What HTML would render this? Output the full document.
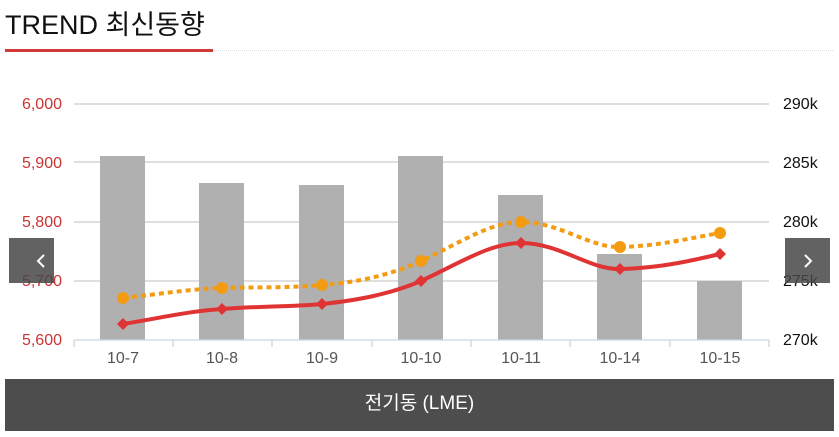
<!DOCTYPE html>
<html><head><meta charset="utf-8"><style>
body{margin:0;background:#fff;width:839px;height:437px;overflow:hidden;position:relative;font-family:"Liberation Sans","Noto Sans CJK KR",sans-serif}
.t{position:absolute;left:5px;top:3px;font-size:27px;color:#111}
.ul{position:absolute;left:5px;top:49px;width:208px;height:3px;background:#d03a3a}
.dl{position:absolute;left:213px;top:50px;width:620px;border-top:1px dotted #ddd}
.nav{position:absolute;top:238px;width:45px;height:45px;background:rgba(70,70,70,.85)}
.bar{position:absolute;left:5px;top:379px;width:829px;height:52px;background:#4d4d4d;color:#fff;font-size:19px;text-align:center;line-height:50px}
</style></head><body>
<div class="t">TREND 최신동향</div><div class="ul"></div><div class="dl"></div>
<svg width="839" height="437" style="position:absolute;left:0;top:0">
<g stroke="#ccc" stroke-width="1.3">
<line x1="74" x2="769" y1="104" y2="104"/><line x1="74" x2="769" y1="162" y2="162"/><line x1="74" x2="769" y1="222" y2="222"/><line x1="74" x2="769" y1="281" y2="281"/></g>
<g fill="#b0b0b0">
<rect x="100" y="156" width="45" height="184"/><rect x="199" y="183" width="45" height="157"/><rect x="299" y="185" width="45" height="155"/><rect x="398" y="156" width="45" height="184"/><rect x="498" y="195" width="45" height="145"/><rect x="597" y="254" width="45" height="86"/><rect x="697" y="281" width="45" height="59"/></g>
<g stroke="#ccd6e0" stroke-width="1.3"><line x1="74" x2="769" y1="340" y2="340"/>
<line x1="74" x2="74" y1="340" y2="347"/><line x1="173" x2="173" y1="340" y2="347"/><line x1="272" x2="272" y1="340" y2="347"/><line x1="372" x2="372" y1="340" y2="347"/><line x1="471" x2="471" y1="340" y2="347"/><line x1="570" x2="570" y1="340" y2="347"/><line x1="670" x2="670" y1="340" y2="347"/><line x1="769" x2="769" y1="340" y2="347"/></g>
<path d="M123,298 C160,294 190,289 222,288 C260,287 290,288 322,285 C360,282 390,275 421,261 C460,243 490,222 521,222 C560,222 590,248 620,247 C660,246 690,238 720,233" fill="none" stroke="#f39c12" stroke-width="4" stroke-dasharray="5,4"/>
<g fill="#f39c12"><circle cx="123" cy="298" r="6"/><circle cx="222" cy="288" r="6"/><circle cx="322" cy="285" r="6"/><circle cx="421" cy="261" r="6"/><circle cx="521" cy="222" r="6"/><circle cx="620" cy="247" r="6"/><circle cx="720" cy="233" r="6"/></g>
<path d="M123,324 C160,318 190,311 222,309 C260,306 290,307 322,304 C360,300 390,294 421,281 C460,263 490,243 521,243 C560,243 590,270 620,269 C660,268 690,261 720,254" fill="none" stroke="#e03434" stroke-width="4"/>
<g fill="#e03434"><path d="M123,318l6,6l-6,6l-6,-6z"/><path d="M222,303l6,6l-6,6l-6,-6z"/><path d="M322,298l6,6l-6,6l-6,-6z"/><path d="M421,275l6,6l-6,6l-6,-6z"/><path d="M521,237l6,6l-6,6l-6,-6z"/><path d="M620,263l6,6l-6,6l-6,-6z"/><path d="M720,248l6,6l-6,6l-6,-6z"/></g>
<g font-size="16" fill="#c33" text-anchor="end" font-family="Liberation Sans"><text x="62" y="109">6,000</text><text x="62" y="168">5,900</text><text x="62" y="227">5,800</text><text x="62" y="286">5,700</text><text x="62" y="345">5,600</text></g>
<g font-size="16" fill="#111" font-family="Liberation Sans"><text x="783" y="109">290k</text><text x="783" y="168">285k</text><text x="783" y="227">280k</text><text x="783" y="286">275k</text><text x="783" y="345">270k</text></g>
<g font-size="16" fill="#555" text-anchor="middle" font-family="Liberation Sans"><text x="123" y="363">10-7</text><text x="222" y="363">10-8</text><text x="322" y="363">10-9</text><text x="421" y="363">10-10</text><text x="521" y="363">10-11</text><text x="620" y="363">10-14</text><text x="720" y="363">10-15</text></g>
</svg>
<div class="nav" style="left:9px"><svg width="45" height="45"><path d="M35,254" /><polyline points="35,17 29,23 35,29" transform="translate(-0,0)" fill="none" stroke="#fff" stroke-width="2"/></svg></div>
<div class="nav" style="left:785px"><svg width="45" height="45"><polyline points="20,17 26,23 20,29" fill="none" stroke="#fff" stroke-width="2"/></svg></div>
<div class="bar">전기동 (LME)</div>
</body></html>
